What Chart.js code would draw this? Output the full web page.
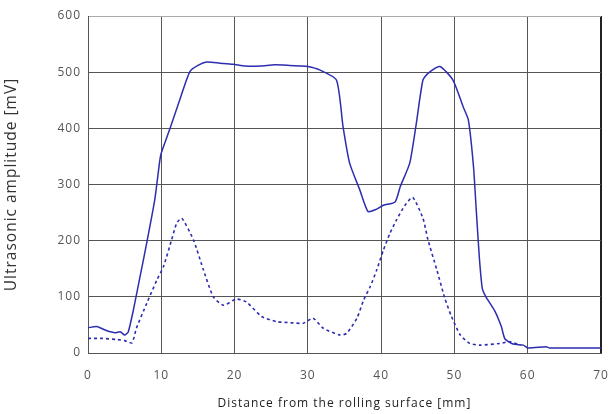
<!DOCTYPE html>
<html>
<head>
<meta charset="utf-8">
<script src="https://cdn.jsdelivr.net/npm/chart.js@4/dist/chart.umd.min.js"></script>
<style>
html,body{margin:0;padding:0;background:#fff;}
#wrap{width:610px;height:414px;}
</style>
</head>
<body>
<div id="wrap"><canvas id="c" width="610" height="414"></canvas></div>
<script>
const xTicks = [0, 10, 20, 30, 40, 50, 60, 70];
const yTicks = [0, 100, 200, 300, 400, 500, 600];

const solidX = [0, 1.2, 2.5, 3.7, 4.4, 5.0, 5.5, 6.2, 7.1, 8.0, 9.1, 9.8, 10.0, 11.2, 12.5, 13.9, 15.0, 16.2, 18, 19.8, 21.5, 23.5, 25.5, 27.5, 28.9, 30.0, 31.6, 33.9, 34.8, 35.7, 37.1, 38.2, 39.2, 40.3, 41.9, 42.6, 43.9, 44.8, 45.7, 46.4, 48.0, 49.8, 51.2, 51.9, 52.6, 53.0, 53.4, 53.8, 54.3, 55.5, 56.4, 56.9, 58.0, 59.4, 60.0, 62.5, 63.0, 70];
const solidY = [45, 47, 40, 36, 38, 32, 38, 77, 136, 195, 272, 343, 356, 400, 450, 501, 512, 518, 516, 514, 511, 511, 513, 512, 511, 510, 504, 486, 403, 338, 290, 252, 255, 263, 269, 296, 338, 409, 486, 498, 510, 486, 438, 415, 332, 250, 170, 115, 100, 75, 47, 25, 16, 14, 9, 11, 9, 9];

const dashedX = [0, 2, 3.9, 5, 6.0, 6.6, 8.0, 9.4, 10.3, 11.4, 12.1, 12.8, 14.4, 15.7, 17.1, 18.5, 20.2, 21.6, 23.7, 25.7, 27.6, 29.4, 30.7, 32.1, 34.4, 35.3, 36.7, 37.6, 38.5, 39.4, 40.3, 41.2, 42.1, 43.2, 44.3, 45.7, 46.4, 47.6, 48.7, 49.6, 50.8, 52.1, 53.5, 56.2, 57.6, 59.0];
const dashedY = [26, 26, 24, 22, 18, 44, 88, 130, 154, 201, 231, 240, 201, 150, 100, 85, 96, 91, 65, 56, 54, 53, 62, 44, 32, 35, 62, 94, 118, 148, 183, 213, 237, 262, 277, 240, 201, 148, 97, 65, 32, 17, 14, 17, 20, 14];

const xTitle = 'Distance from the rolling surface [mm]';
const yTitle = 'Ultrasonic amplitude [mV]';

const toPts = (xs, ys) => xs.map((x, i) => ({x: x, y: ys[i]}));
const lineColor = '#2d2db0';

const spacing = {
  id: 'spacing',
  beforeUpdate(chart) { chart.ctx.letterSpacing = '1px'; },
  beforeDraw(chart) { chart.ctx.letterSpacing = '1px'; }
};

new Chart(document.getElementById('c'), {
  type: 'line',
  data: {
    datasets: [
      {data: toPts(solidX, solidY), borderColor: lineColor, borderWidth: 1.5, pointRadius: 0, tension: 0.2, fill: false},
      {data: toPts(dashedX, dashedY), borderColor: lineColor, borderWidth: 1.6, borderDash: [3, 3], pointRadius: 0, tension: 0.2, fill: false}
    ]
  },
  plugins: [spacing],
  options: {
    responsive: false,
    animation: false,
    events: [],
    layout: {padding: {left: 0, right: 9, top: 16, bottom: 0}},
    plugins: {legend: {display: false}, tooltip: {enabled: false}},
    scales: {
      x: {
        type: 'linear', min: 0, max: 70,
        afterBuildTicks: s => { s.ticks = xTicks.map(v => ({value: v})); },
        afterFit: s => { s.height = 61; s.paddingLeft = 0; s.paddingRight = 0; },
        ticks: {color: '#555', font: {family: 'Open Sans', size: 12}, padding: 15, maxRotation: 0},
        grid: {drawTicks: false, color: c => (c.tick && c.tick.value === 70 ? '#222' : '#555'), lineWidth: c => (c.tick && c.tick.value === 70 ? 2 : 1)},
        border: {color: '#555', width: 1},
        title: {display: true, text: xTitle, color: '#222', font: {family: 'Open Sans', size: 12}, padding: {top: 2, bottom: 3}}
      },
      y: {
        type: 'linear', min: 0, max: 600,
        afterBuildTicks: s => { s.ticks = yTicks.map(v => ({value: v})); },
        afterFit: s => { s.width = 88; s.paddingTop = 0; s.paddingBottom = 0; },
        ticks: {color: '#555', font: {family: 'Open Sans', size: 12}, padding: 7},
        grid: {drawTicks: false, color: c => (c.tick && c.tick.value === 600 ? '#aaa' : '#555'), lineWidth: 1},
        border: {color: '#555', width: 1},
        title: {display: true, text: yTitle, color: '#333', font: {family: 'Open Sans', size: 15.5}, padding: {top: 2, bottom: 0}}
      }
    }
  }
});
</script>
</body>
</html>
